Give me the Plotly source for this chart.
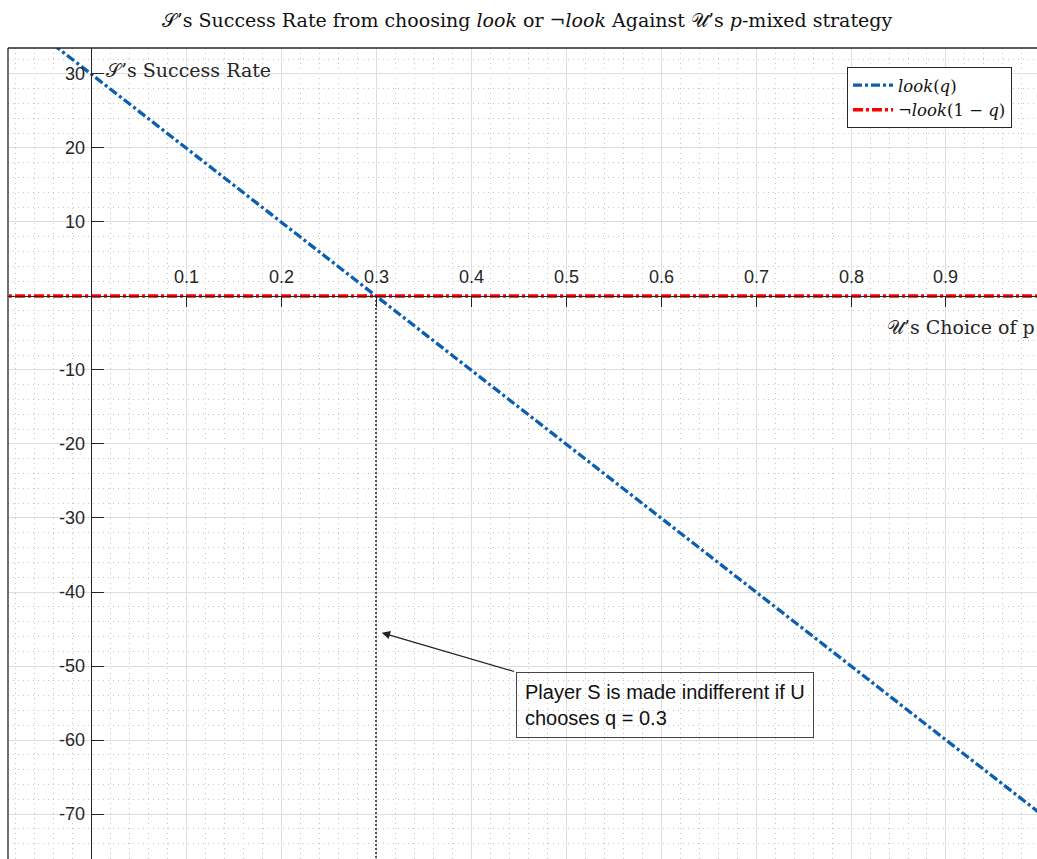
import plotly.graph_objects as go

# ---- data ----
q_vals = [-0.1, 1.0]
look_vals = [40, -70]          # S's success rate choosing look
not_look_vals = [0, 0]         # S's success rate choosing not-look
q_star = 0.3                   # indifference point
indiff_y = [0, -80]

x_ticks = [0.1, 0.2, 0.3, 0.4, 0.5, 0.6, 0.7, 0.8, 0.9]
x_tick_text = ["0.1", "0.2", "0.3", "0.4", "0.5", "0.6", "0.7", "0.8", "0.9"]
y_ticks = [30, 20, 10, -10, -20, -30, -40, -50, -60, -70]
y_tick_text = ["30", "20", "10", "-10", "-20", "-30", "-40", "-50", "-60", "-70"]

x_range = [-0.0874, 0.9958]
y_range = [-76.08, 33.51]

W, H = 1037, 859
ML, MT = 8, 48

BLUE = "#0B5FB0"
RED = "#FF0000"
SERIF = "DejaVu Serif, Liberation Serif, serif"
SANS = "Liberation Sans, Arial, Helvetica, sans-serif"
TICKC = "#262626"

fig = go.Figure()
fig.add_trace(go.Scatter(
    x=q_vals, y=look_vals, mode="lines",
    name="<i>look</i>(<i>q</i>)",
    line=dict(color=BLUE, width=3.3, dash="9px,3px,3px,3px"),
))
fig.add_trace(go.Scatter(
    x=q_vals, y=not_look_vals, mode="lines",
    name="¬<i>look</i>(1 − <i>q</i>)",
    line=dict(color=RED, width=3.5, dash="10px,3px,3px,3px"),
))
fig.add_trace(go.Scatter(
    x=[q_star, q_star], y=indiff_y, mode="lines", showlegend=False,
    line=dict(color="#555555", width=2, dash="2px,2px"),
))

xpos = (0 - y_range[0]) / (y_range[1] - y_range[0])
ypos = (0 - x_range[0]) / (x_range[1] - x_range[0])

grid_major = "#dedede"
grid_minor = "#c4c4c4"

fig.update_layout(
    width=W, height=H,
    margin=dict(l=ML, r=0, t=MT, b=0, autoexpand=False),
    plot_bgcolor="white", paper_bgcolor="white",
    showlegend=True,
    title=dict(
        text="𝒮’s Success Rate from choosing <i>look</i> or ¬<i>look</i> Against 𝒰’s <i>p</i>-mixed strategy",
        x=523 / W, xanchor="center", xref="paper",
        y=1 - 20 / H, yanchor="middle",
        font=dict(family=SERIF, size=19, color="#111111"),
    ),
    legend=dict(
        x=0.9757, xanchor="right", y=0.9766, yanchor="top",
        bgcolor="white", bordercolor="#262626", borderwidth=1,
        font=dict(family=SERIF, size=16.5, color="#111111"),
        tracegroupgap=0, itemwidth=40,
    ),
    xaxis=dict(
        range=x_range, anchor="free", position=xpos, automargin=False,
        tickmode="array", tickvals=x_ticks, showticklabels=False,
        ticks="outside", ticklen=10, tickcolor=TICKC, tickwidth=1.3,
        showline=True, linecolor=TICKC, linewidth=1.3,
        showgrid=True, gridcolor=grid_major, gridwidth=1,
        zeroline=False,
        minor=dict(tickmode="linear", tick0=0, dtick=0.02, showgrid=True,
                   gridcolor=grid_minor, griddash="1px,4px", gridwidth=1, ticks=""),
    ),
    yaxis=dict(
        range=y_range, anchor="free", position=ypos, automargin=False,
        tickmode="array", tickvals=y_ticks, showticklabels=False,
        ticks="inside", ticklen=12, tickcolor=TICKC, tickwidth=1.3,
        showline=True, linecolor=TICKC, linewidth=1.3,
        showgrid=True, gridcolor=grid_major, gridwidth=1,
        zeroline=False,
        minor=dict(tickmode="linear", tick0=0, dtick=2, showgrid=True,
                   gridcolor=grid_minor, griddash="1px,4px", gridwidth=1, ticks=""),
    ),
)

# tick labels placed beside the origin axes
for xv, xt in zip(x_ticks, x_tick_text):
    fig.add_annotation(x=xv, y=0, xref="x", yref="y", text=xt, showarrow=False,
                       xanchor="center", yanchor="middle", yshift=19,
                       font=dict(family=SANS, size=18, color=TICKC))
for yv, yt in zip(y_ticks, y_tick_text):
    fig.add_annotation(x=0, y=yv, xref="x", yref="y", text=yt, showarrow=False,
                       xanchor="right", yanchor="middle", xshift=-4,
                       font=dict(family=SANS, size=18, color=TICKC))

# outer frame (left and top)
fig.add_shape(type="line", xref="paper", yref="paper", x0=0, x1=0, y0=0, y1=1,
              line=dict(color=TICKC, width=1.3))
fig.add_shape(type="line", xref="paper", yref="paper", x0=0, x1=1, y0=1, y1=1,
              line=dict(color=TICKC, width=1.3))

# axis labels
fig.add_annotation(x=0.014, y=30.5, xref="x", yref="y", xanchor="left", yanchor="middle",
                   text="𝒮’s Success Rate", showarrow=False,
                   font=dict(family=SERIF, size=19, color="#262626"))
fig.add_annotation(x=1.0, y=-4.2, xref="paper", yref="y", xanchor="left", yanchor="middle",
                   xshift=-152,
                   text="𝒰’s Choice of p", showarrow=False,
                   font=dict(family=SERIF, size=19, color="#262626"))

# annotation arrow + text box
fig.add_annotation(x=0.306, y=-45.5, ax=0.447, ay=-50.8, xref="x", yref="y",
                   axref="x", ayref="y", text="", showarrow=True,
                   arrowhead=2, arrowsize=1.4, arrowwidth=1.2, arrowcolor="#222222")
fig.add_annotation(x=0.447, y=-50.8, xref="x", yref="y", xanchor="left", yanchor="top",
                   text="Player S is made indifferent if U<br>chooses q = 0.3",
                   showarrow=False, align="left",
                   font=dict(family=SANS, size=20, color="#111111"),
                   bordercolor="#444444", borderwidth=1, borderpad=8,
                   bgcolor="rgba(0,0,0,0)")

fig.write_html(
    "out.html",
    config={"displayModeBar": False},
    post_script="document.body.style.margin='0';document.body.style.overflow='hidden';",
)
